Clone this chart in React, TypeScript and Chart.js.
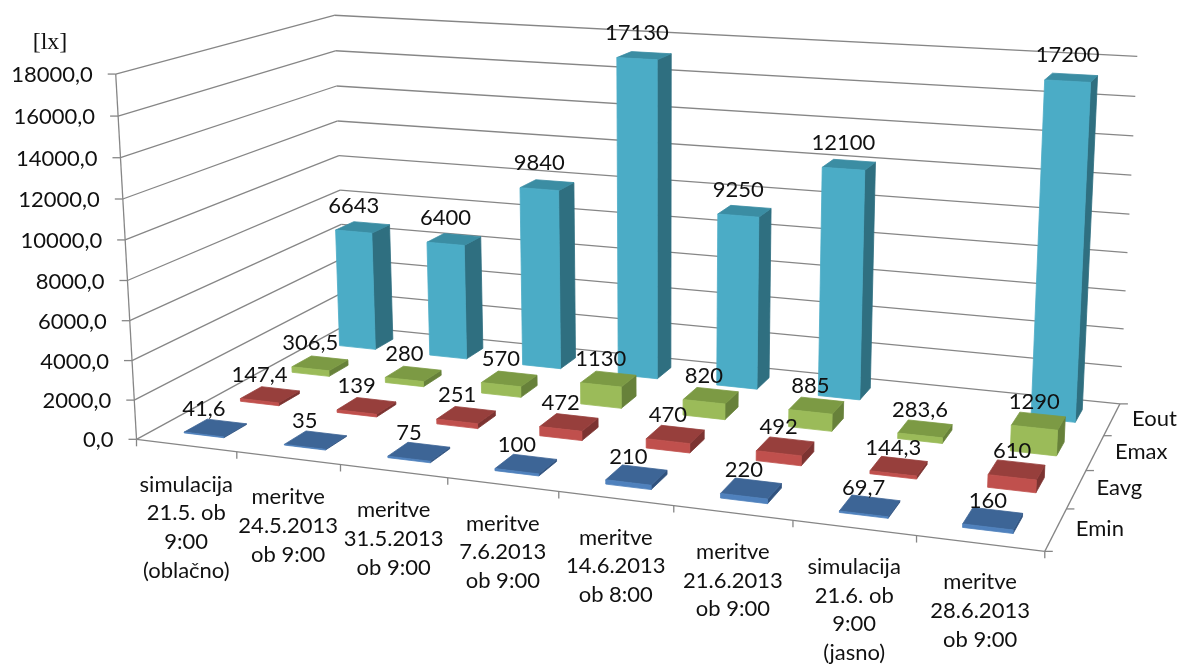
import { useEffect, useRef } from "react";
import { Chart, registerables } from "chart.js";

Chart.register(...registerables);

// ---- data -------------------------------------------------------------
const CATEGORIES: string[][] = [
  ["simulacija", "21.5. ob", "9:00", "(oblačno)"],
  ["meritve", "24.5.2013", "ob 9:00"],
  ["meritve", "31.5.2013", "ob 9:00"],
  ["meritve", "7.6.2013", "ob 9:00"],
  ["meritve", "14.6.2013", "ob 8:00"],
  ["meritve", "21.6.2013", "ob 9:00"],
  ["simulacija", "21.6. ob", "9:00", "(jasno)"],
  ["meritve", "28.6.2013", "ob 9:00"],
];
const SERIES_NAMES = ["Emin", "Eavg", "Emax", "Eout"];
const EMIN = [41.6, 35, 75, 100, 210, 220, 69.7, 160];
const EAVG = [147.4, 139, 251, 472, 470, 492, 144.3, 610];
const EMAX = [306.5, 280, 570, 1130, 820, 885, 283.6, 1290];
const EOUT: (number | null)[] = [6643, 6400, 9840, 17130, 9250, 12100, null, 17200];
const Y_MIN = 0;
const Y_MAX = 18000;
const Y_STEP = 2000;
const UNIT_LABEL = "[lx]";

// ---- styling ----------------------------------------------------------
// [front, top, side] face colours per series
const FACE_COLORS = [
  ["#4F81BD", "#3D6596", "#30527E"],
  ["#C0504D", "#973F3C", "#7C3331"],
  ["#9BBB59", "#7C9A44", "#67813A"],
  ["#4BACC6", "#3B8DA3", "#2F6F80"],
];
const BAR_WIDTH = 0.4; // share of a category slot
const BAR_DEPTH = 0.4; // share of a series slot
const GRID_COLOR = "#868686";
const TEXT_COLOR = "#111111";
const FONT = "22px Lato";

// Corners of the unit box (X: categories, Y: value, Z: series depth)
// and where they sit on the canvas; a perspective camera is fitted to them.
const FRAME_CORNERS: [number, number, number, number, number][] = [
  [0, 0, 0, 137, 437],
  [1, 0, 0, 1045, 553],
  [0, 0, 1, 344, 328],
  [1, 0, 1, 1120, 402],
  [0, 1, 0, 115, 75],
  [0, 1, 1, 335, 14],
  [1, 1, 1, 1137, 57],
];

type Projector = (X: number, Y: number, Z: number) => [number, number];

// Least-squares DLT: 3x4 projection matrix with p34 = 1.
function fitCamera(pts: [number, number, number, number, number][]): Projector {
  const n = 11;
  const M: number[][] = Array.from({ length: n }, () => new Array(n + 1).fill(0));
  const addRow = (row: number[], b: number) => {
    for (let i = 0; i < n; i++) {
      for (let j = 0; j < n; j++) M[i][j] += row[i] * row[j];
      M[i][n] += row[i] * b;
    }
  };
  for (const [X, Y, Z, u, v] of pts) {
    addRow([X, Y, Z, 1, 0, 0, 0, 0, -u * X, -u * Y, -u * Z], u);
    addRow([0, 0, 0, 0, X, Y, Z, 1, -v * X, -v * Y, -v * Z], v);
  }
  for (let c = 0; c < n; c++) {
    let p = c;
    for (let r = c + 1; r < n; r++) if (Math.abs(M[r][c]) > Math.abs(M[p][c])) p = r;
    [M[c], M[p]] = [M[p], M[c]];
    for (let r = 0; r < n; r++) {
      if (r === c) continue;
      const f = M[r][c] / M[c][c];
      for (let k = c; k <= n; k++) M[r][k] -= f * M[c][k];
    }
  }
  const s = M.map((row, i) => row[n] / row[i]);
  return (X, Y, Z) => {
    const w = s[8] * X + s[9] * Y + s[10] * Z + 1;
    return [
      (s[0] * X + s[1] * Y + s[2] * Z + s[3]) / w,
      (s[4] * X + s[5] * Y + s[6] * Z + s[7]) / w,
    ];
  };
}

const project = fitCamera(FRAME_CORNERS);

const fmt = (v: number) => String(v).replace(".", ",");

function line(ctx: CanvasRenderingContext2D, a: [number, number], b: [number, number]) {
  ctx.beginPath();
  ctx.moveTo(a[0], a[1]);
  ctx.lineTo(b[0], b[1]);
  ctx.stroke();
}

function face(ctx: CanvasRenderingContext2D, pts: [number, number][], color: string) {
  ctx.beginPath();
  pts.forEach((p, i) => (i ? ctx.lineTo(p[0], p[1]) : ctx.moveTo(p[0], p[1])));
  ctx.closePath();
  ctx.fillStyle = color;
  ctx.strokeStyle = color;
  ctx.lineWidth = 0.8;
  ctx.fill();
  ctx.stroke();
}

const scene3d = {
  id: "scene3d",
  beforeDatasetsDraw() {
    // the flat 2D bars are replaced by the boxes drawn below
    return false;
  },
  afterDraw(chart: any) {
    const ctx: CanvasRenderingContext2D = chart.ctx;
    const xs = chart.scales.x;
    const ys = chart.scales.y;
    const ds = chart.scales.depth;
    const nCat = CATEGORIES.length;
    const nSer = SERIES_NAMES.length;

    const fx = (i: number) => (xs.getPixelForValue(i) - xs.left) / xs.width;
    const fyPix = (py: number) => (ys.bottom - py) / (ys.bottom - ys.top);
    const fy = (v: number) => fyPix(ys.getPixelForValue(v));
    const fz = (s: number) => {
      const z = ds ? (ds.getPixelForValue(s) - ds.left) / ds.width : NaN;
      return Number.isFinite(z) ? z : (s + 0.5) / nSer;
    };

    ctx.save();

    // walls: gridlines on the left and back walls
    const ticks: number[] =
      ys.ticks && ys.ticks.length
        ? ys.ticks.map((t: any) => t.value)
        : Array.from({ length: (Y_MAX - Y_MIN) / Y_STEP + 1 }, (_, k) => Y_MIN + k * Y_STEP);
    ctx.strokeStyle = GRID_COLOR;
    ctx.lineWidth = 1.3;
    for (const t of ticks) {
      const h = fy(t);
      line(ctx, project(0, h, 0), project(0, h, 1));
      line(ctx, project(0, h, 1), project(1, h, 1));
    }
    // value axis edge + ticks
    line(ctx, project(0, 0, 0), project(0, 1, 0));
    ctx.font = FONT;
    ctx.fillStyle = TEXT_COLOR;
    ctx.textAlign = "right";
    ctx.textBaseline = "middle";
    for (const t of ticks) {
      const p = project(0, fy(t), 0);
      line(ctx, [p[0] - 8, p[1]], p);
      ctx.fillText(t.toFixed(1).replace(".", ","), p[0] - 23, p[1] + 1);
    }
    // floor edges + ticks
    line(ctx, project(0, 0, 0), project(1, 0, 0));
    line(ctx, project(1, 0, 0), project(1, 0, 1));
    for (let k = 0; k <= nCat; k++) {
      const p = project(k / nCat, 0, 0);
      line(ctx, p, [p[0], p[1] + 7]);
    }
    for (let k = 0; k <= nSer; k++) {
      const p = project(1, 0, k / nSer);
      line(ctx, p, [p[0] + 8, p[1]]);
    }

    // boxes, back row first, left to right
    const halfW = (BAR_WIDTH / nCat) / 2;
    const halfD = (BAR_DEPTH / nSer) / 2;
    const labels: { x: number; y: number; text: string }[] = [];
    for (let s = nSer - 1; s >= 0; s--) {
      const meta = chart.getDatasetMeta(s);
      const values = chart.data.datasets[s].data as (number | null)[];
      const [cFront, cTop, cSide] = FACE_COLORS[s];
      for (let i = 0; i < nCat; i++) {
        const v = values[i];
        if (v === null || v === undefined) continue;
        const el = meta.data[i];
        const h = el && Number.isFinite(el.y) ? fyPix(el.y) : fy(v);
        const xc = fx(i);
        const zc = fz(s);
        const x0 = xc - halfW, x1 = xc + halfW;
        const z0 = zc - halfD, z1 = zc + halfD;
        face(ctx, [project(x1, 0, z0), project(x1, 0, z1), project(x1, h, z1), project(x1, h, z0)], cSide);
        face(ctx, [project(x0, h, z0), project(x1, h, z0), project(x1, h, z1), project(x0, h, z1)], cTop);
        face(ctx, [project(x0, 0, z0), project(x1, 0, z0), project(x1, h, z0), project(x0, h, z0)], cFront);
        const a = project(xc, h, z0);
        labels.push({ x: a[0], y: a[1] - 26, text: fmt(v) });
      }
    }

    // value labels
    ctx.font = FONT;
    ctx.fillStyle = TEXT_COLOR;
    ctx.textAlign = "center";
    ctx.textBaseline = "middle";
    for (const l of labels) ctx.fillText(l.text, l.x, l.y);

    // category labels under the front edge
    for (let i = 0; i < nCat; i++) {
      const p = project(fx(i), 0, 0);
      CATEGORIES[i].forEach((txt, k) => ctx.fillText(txt, p[0], p[1] + 39 + k * 28.7));
    }

    // series labels along the right edge
    ctx.textAlign = "left";
    for (let s = 0; s < nSer; s++) {
      const p = project(1, 0, fz(s));
      ctx.fillText(SERIES_NAMES[s], p[0] + 20, p[1] - 1);
    }

    // unit
    ctx.font = "24px 'Liberation Serif'";
    ctx.textAlign = "center";
    ctx.fillText(UNIT_LABEL, 50, 43);

    ctx.restore();
  },
};

export default function App() {
  const ref = useRef<HTMLCanvasElement>(null);

  useEffect(() => {
    if (!ref.current) return;
    const chart = new Chart(ref.current, {
      type: "bar",
      data: {
        labels: CATEGORIES,
        datasets: [
          { label: SERIES_NAMES[0], data: EMIN, backgroundColor: FACE_COLORS[0][0] },
          { label: SERIES_NAMES[1], data: EAVG, backgroundColor: FACE_COLORS[1][0] },
          { label: SERIES_NAMES[2], data: EMAX, backgroundColor: FACE_COLORS[2][0] },
          { label: SERIES_NAMES[3], data: EOUT, backgroundColor: FACE_COLORS[3][0] },
        ],
      },
      options: {
        responsive: true,
        maintainAspectRatio: false,
        animation: false,
        layout: { padding: 0 },
        plugins: { legend: { display: false }, tooltip: { enabled: false } },
        scales: {
          x: { type: "category", display: false, offset: true },
          y: {
            type: "linear",
            display: false,
            min: Y_MIN,
            max: Y_MAX,
            ticks: { stepSize: Y_STEP },
          },
          depth: {
            type: "category",
            axis: "x",
            position: "bottom",
            display: false,
            offset: true,
            labels: SERIES_NAMES,
          },
        } as any,
      },
      plugins: [scene3d],
    });
    return () => chart.destroy();
  }, []);

  return (
    <div style={{ position: "fixed", left: 0, top: 0, width: 1178, height: 668, background: "#ffffff" }}>
      <canvas ref={ref} />
    </div>
  );
}
